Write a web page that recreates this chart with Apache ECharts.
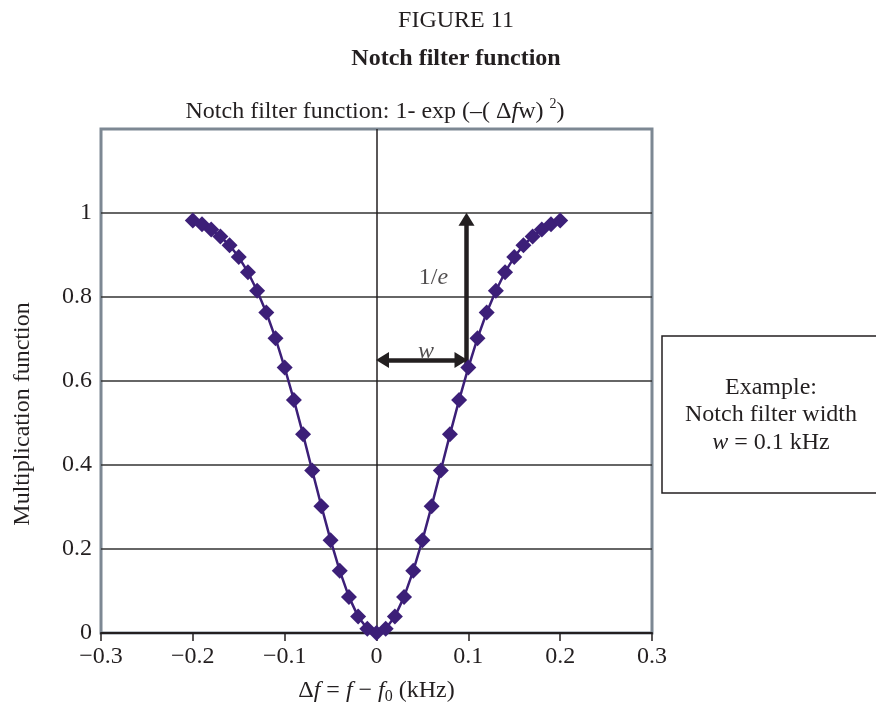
<!DOCTYPE html>
<html>
<head>
<meta charset="utf-8">
<script src="https://cdn.jsdelivr.net/npm/echarts@6/dist/echarts.min.js"></script>
<style>
html,body{margin:0;padding:0;background:#fff;}
#main{width:876px;height:714px;}
</style>
</head>
<body>
<div id="main"></div>
<script>
// ---- data ----
var deltaF = [-0.20,-0.19,-0.18,-0.17,-0.16,-0.15,-0.14,-0.13,-0.12,-0.11,-0.10,-0.09,-0.08,-0.07,-0.06,-0.05,-0.04,-0.03,-0.02,-0.01,0.00,
              0.01,0.02,0.03,0.04,0.05,0.06,0.07,0.08,0.09,0.10,0.11,0.12,0.13,0.14,0.15,0.16,0.17,0.18,0.19,0.20];
var multFn = [0.982,0.973,0.961,0.944,0.923,0.895,0.859,0.815,0.763,0.702,0.632,0.555,0.473,0.387,0.302,0.221,0.148,0.086,0.039,0.010,0.000,
              0.010,0.039,0.086,0.148,0.221,0.302,0.387,0.473,0.555,0.632,0.702,0.763,0.815,0.859,0.895,0.923,0.944,0.961,0.973,0.982];
var xTicks = [-0.3,-0.2,-0.1,0,0.1,0.2,0.3];
var yTicks = [0,0.2,0.4,0.6,0.8,1];
var gridValues = [0.2,0.4,0.6,0.8,1.0];
var zeroLineX = 0;
// annotation anchors (data units)
var arrowX = 0.098, arrowYLow = 0.65, arrowYTop = 0.985;
var widthArrowFrom = 0.0065, widthArrowTo = 0.092;
var labelInvE = [0.062, 0.845];
var labelW = [0.054, 0.669];

var serif = '"Liberation Serif","Times New Roman",serif';
var ink = '#231f20';
var purple = '#3c1f78';
var FS = 24;

var chart = echarts.init(document.getElementById('main'), null, {renderer:'canvas'});

var pts = deltaF.map(function(x,i){return [x, multFn[i]];});

var option = {
  backgroundColor:'#fff',
  animation:false,
  grid:{left:101,right:224,top:129,bottom:81,show:true,borderColor:'#7d8893',borderWidth:3,backgroundColor:'#fff'},
  xAxis:{
    type:'value',min:-0.3,max:0.3,interval:0.1,
    name:'{d|Δ}{i|f}{n| = }{i|f}{n| − }{i|f}{s|0}{n| (kHz)}',
    nameLocation:'middle',nameGap:44,
    nameTextStyle:{fontFamily:serif,fontSize:FS,color:ink,
      rich:{d:{fontFamily:serif,fontSize:FS,color:ink},
            i:{fontFamily:serif,fontSize:FS,fontStyle:'italic',color:ink},
            n:{fontFamily:serif,fontSize:FS,color:ink},
            s:{fontFamily:serif,fontSize:16,color:ink,verticalAlign:'bottom',padding:[12,0,0,0]}}},
    axisLine:{show:true,onZero:false,lineStyle:{color:ink,width:2}},
    axisTick:{show:true,length:8,lineStyle:{color:ink,width:1.5}},
    axisLabel:{fontFamily:serif,fontSize:FS,color:ink,margin:12,
      formatter:function(v){var r=Math.round(v*10)/10; return r<0?('\u2212'+Math.abs(r)):String(r);}},
    splitLine:{show:false}
  },
  yAxis:{
    type:'value',min:0,max:1.2,interval:0.2,
    axisLine:{show:false},
    axisTick:{show:false},
    axisLabel:{fontFamily:serif,fontSize:FS,color:ink,margin:9,
      formatter:function(v){var r=Math.round(v*10)/10; return r>1.05?'':String(r);}},
    splitLine:{show:false}
  },
  series:[
    {
      type:'line',name:'grid',data:[],silent:true,
      markLine:{silent:true,symbol:['none','none'],animation:false,label:{show:false},
        lineStyle:{color:'#333',width:1.5,type:'solid'},
        data:gridValues.map(function(v){return {yAxis:v};}).concat([{xAxis:zeroLineX,lineStyle:{color:ink,width:1.5,type:'solid'}}])}
    },
    {
      type:'line',name:'notch',data:pts,
      symbol:'diamond',symbolSize:16,
      lineStyle:{color:purple,width:2.5},
      itemStyle:{color:purple},
      z:5
    },
    {
      type:'line',name:'arrows',data:[],silent:true,z:6,
      markLine:{silent:true,animation:false,label:{show:false},
        symbolSize:[16,13],
        data:[
          [{coord:[arrowX,arrowYLow-0.01],symbol:'none',lineStyle:{color:ink,width:4.5,type:'solid'}},
           {coord:[arrowX,arrowYTop],symbol:'triangle'}],
          [{coord:[widthArrowFrom,arrowYLow],symbol:'triangle',lineStyle:{color:ink,width:4.5,type:'solid'}},
           {coord:[widthArrowTo,arrowYLow],symbol:'triangle'}]
        ]}
    },
    {
      type:'scatter',name:'labels',symbolSize:0,silent:true,z:7,
      data:[
        {value:labelInvE,label:{show:true,position:'inside',formatter:'{n|1/}{i|e}',
          rich:{n:{fontFamily:serif,fontSize:FS,color:ink},i:{fontFamily:serif,fontSize:FS,fontStyle:'italic',color:ink}}}},
        {value:labelW,label:{show:true,position:'inside',formatter:'{i|w}',
          rich:{i:{fontFamily:serif,fontSize:FS,fontStyle:'italic',color:ink}}}}
      ]
    }
  ],
  graphic:[
    {type:'text',x:456,y:21,style:{text:'FIGURE 11',align:'center',verticalAlign:'middle',font:FS+'px '+serif,fill:ink}},
    {type:'text',x:456,y:59,style:{text:'Notch filter function',align:'center',verticalAlign:'middle',font:'bold '+FS+'px '+serif,fill:ink}},
    {type:'text',x:375,y:112,style:{
      text:'{n|Notch filter function: 1- exp (–( Δ}{i|f}{n|w) }{s|2}{n|)}',
      align:'center',verticalAlign:'middle',
      rich:{n:{fontFamily:serif,fontSize:FS,fill:ink},
            i:{fontFamily:serif,fontSize:FS,fontStyle:'italic',fill:ink},
            s:{fontFamily:serif,fontSize:14,fill:ink,verticalAlign:'top',padding:[0,0,16,0]}}}},
    {type:'text',x:23,y:414,rotation:Math.PI/2,style:{text:'Multiplication function',align:'center',verticalAlign:'middle',font:FS+'px '+serif,fill:ink}},
    {type:'rect',shape:{x:662,y:336,width:260,height:157},style:{fill:'#fff',stroke:ink,lineWidth:1.5}},
    {type:'text',x:771,y:388,style:{text:'Example:',align:'center',verticalAlign:'middle',font:FS+'px '+serif,fill:ink}},
    {type:'text',x:771,y:415,style:{text:'Notch filter width',align:'center',verticalAlign:'middle',font:FS+'px '+serif,fill:ink}},
    {type:'text',x:771,y:443,style:{text:'{i|w}{n| = 0.1 kHz}',align:'center',verticalAlign:'middle',
      rich:{i:{fontFamily:serif,fontSize:FS,fontStyle:'italic',fill:ink},n:{fontFamily:serif,fontSize:FS,fill:ink}}}}
  ]
};
chart.setOption(option);
</script>
</body>
</html>
